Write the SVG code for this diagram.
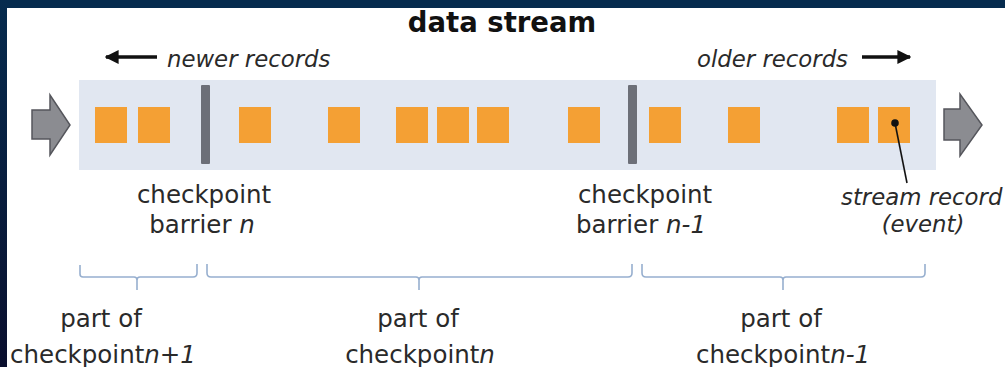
<svg xmlns="http://www.w3.org/2000/svg" width="1005" height="367" viewBox="0 0 1005 367">
  <defs>
    <linearGradient id="sideGrad" x1="0" y1="0" x2="0" y2="1">
      <stop offset="0" stop-color="#062b4e"/>
      <stop offset="1" stop-color="#0a0f2e"/>
    </linearGradient>
    <marker id="headBlack" viewBox="0 0 10 10" refX="9" refY="5" markerWidth="4" markerHeight="4" markerUnits="strokeWidth" orient="auto">
      <path d="M0,0 L10,5 L0,10 Z" fill="#111"/>
    </marker>
  </defs>
  <style>
    .lbl { font-family: "DejaVu Sans", "Liberation Sans", sans-serif; font-size: 24.5px; fill: #2a2a2a; }
    .ital { font-family: "DejaVu Sans", "Liberation Sans", sans-serif; font-size: 22.8px; font-style: italic; fill: #2a2a2a; }
    .title { font-family: "DejaVu Sans", "Liberation Sans", sans-serif; font-size: 27.5px; font-weight: bold; fill: #111; }
    .rec { fill: #f4a034; }
    .bar { fill: #6c6f78; }
    .flow { fill: #8b8c91; stroke: #55565c; stroke-width: 1.5; }
    .brace { fill: none; stroke: #97afcf; stroke-width: 1.6; stroke-linejoin: round; }
    .dir { stroke: #111; stroke-width: 3.5; fill: none; }
  </style>

  <rect x="0" y="0" width="1005" height="367" fill="#ffffff"/>
  <rect x="0" y="0" width="1005" height="8" fill="#062b4e"/>
  <rect x="0" y="0" width="7" height="367" fill="url(#sideGrad)"/>

  <g id="title">
    <text class="title" x="502" y="32" text-anchor="middle">data stream</text>
  </g>

  <g id="stream">
    <rect x="79" y="80" width="857" height="90" fill="#e1e7f1"/>
  </g>

  <g id="input-arrow">
    <polygon class="flow" points="32,110 50,110 50,95 70,125 50,155 50,139 32,139"/>
  </g>
  <g id="output-arrow">
    <polygon class="flow" points="944,109 960,109 960,94 982,125 960,156 960,140 944,140"/>
  </g>

  <g id="records">
    <rect class="rec" x="95" y="107" width="32" height="36"/>
    <rect class="rec" x="138" y="107" width="32" height="36"/>
    <rect class="rec" x="239" y="107" width="32" height="36"/>
    <rect class="rec" x="328" y="107" width="32" height="36"/>
    <rect class="rec" x="396" y="107" width="32" height="36"/>
    <rect class="rec" x="437" y="107" width="32" height="36"/>
    <rect class="rec" x="477" y="107" width="32" height="36"/>
    <rect class="rec" x="568" y="107" width="32" height="36"/>
    <rect class="rec" x="649" y="107" width="32" height="36"/>
    <rect class="rec" x="728" y="107" width="32" height="36"/>
    <rect class="rec" x="837" y="107" width="32" height="36"/>
    <rect class="rec" x="878" y="107" width="32" height="36"/>
  </g>

  <g id="barrier-n">
    <rect class="bar" x="201" y="85" width="9" height="79" rx="1"/>
    <text class="lbl" x="204" y="203" text-anchor="middle">checkpoint</text>
    <text class="lbl" x="202" y="233" text-anchor="middle">barrier <tspan font-style="italic">n</tspan></text>
  </g>

  <g id="barrier-n-1">
    <rect class="bar" x="628" y="85" width="9" height="79" rx="1"/>
    <text class="lbl" x="645" y="203" text-anchor="middle">checkpoint</text>
    <text class="lbl" x="641" y="233" text-anchor="middle">barrier <tspan font-style="italic">n-1</tspan></text>
  </g>

  <g id="newer-records">
    <text class="ital" x="167" y="67">newer records</text>
  </g>
  <g id="older-records">
    <text class="ital" x="697" y="67">older records</text>
  </g>

  <g id="stream-record-label">
    <circle cx="895" cy="123" r="3.8" fill="#111"/>
    <text class="ital" x="841" y="205" font-size="22.5">stream record</text>
    <text class="ital" x="923" y="232" text-anchor="middle">(event)</text>
  </g>

  <g id="part-n-plus-1">
    <path class="brace" d="M80,265 L80,274 Q80,277 83,277 L134,277 Q137,277 137,280 L137,290 M137,280 Q137,277 140,277 L193,277 Q197,277 197,273 L197,264"/>
    <text class="lbl" x="101" y="327" text-anchor="middle">part of</text>
    <text class="lbl" x="103" y="363" text-anchor="middle">checkpoint<tspan font-style="italic">n+1</tspan></text>
  </g>

  <g id="part-n">
    <path class="brace" d="M207,264 L207,273 Q207,277 211,277 L416,277 Q419,277 419,280 L419,290 M419,280 Q419,277 422,277 L628,277 Q632,277 632,273 L632,264"/>
    <text class="lbl" x="418" y="327" text-anchor="middle">part of</text>
    <text class="lbl" x="420" y="363" text-anchor="middle">checkpoint<tspan font-style="italic">n</tspan></text>
  </g>

  <g id="part-n-1">
    <path class="brace" d="M642,264 L642,273 Q642,277 646,277 L780,277 Q783,277 783,280 L783,290 M783,280 Q783,277 786,277 L921,277 Q925,277 925,273 L925,264"/>
    <text class="lbl" x="781" y="327" text-anchor="middle">part of</text>
    <text class="lbl" x="783" y="363" text-anchor="middle">checkpoint<tspan font-style="italic">n-1</tspan></text>
  </g>

  <g id="connectors">
    <line class="dir" x1="157" y1="57" x2="106" y2="57" marker-end="url(#headBlack)"/>
    <line class="dir" x1="862" y1="57" x2="910" y2="57" marker-end="url(#headBlack)"/>
    <line x1="895" y1="123" x2="907" y2="183" stroke="#111" stroke-width="1.6"/>
  </g>
</svg>
